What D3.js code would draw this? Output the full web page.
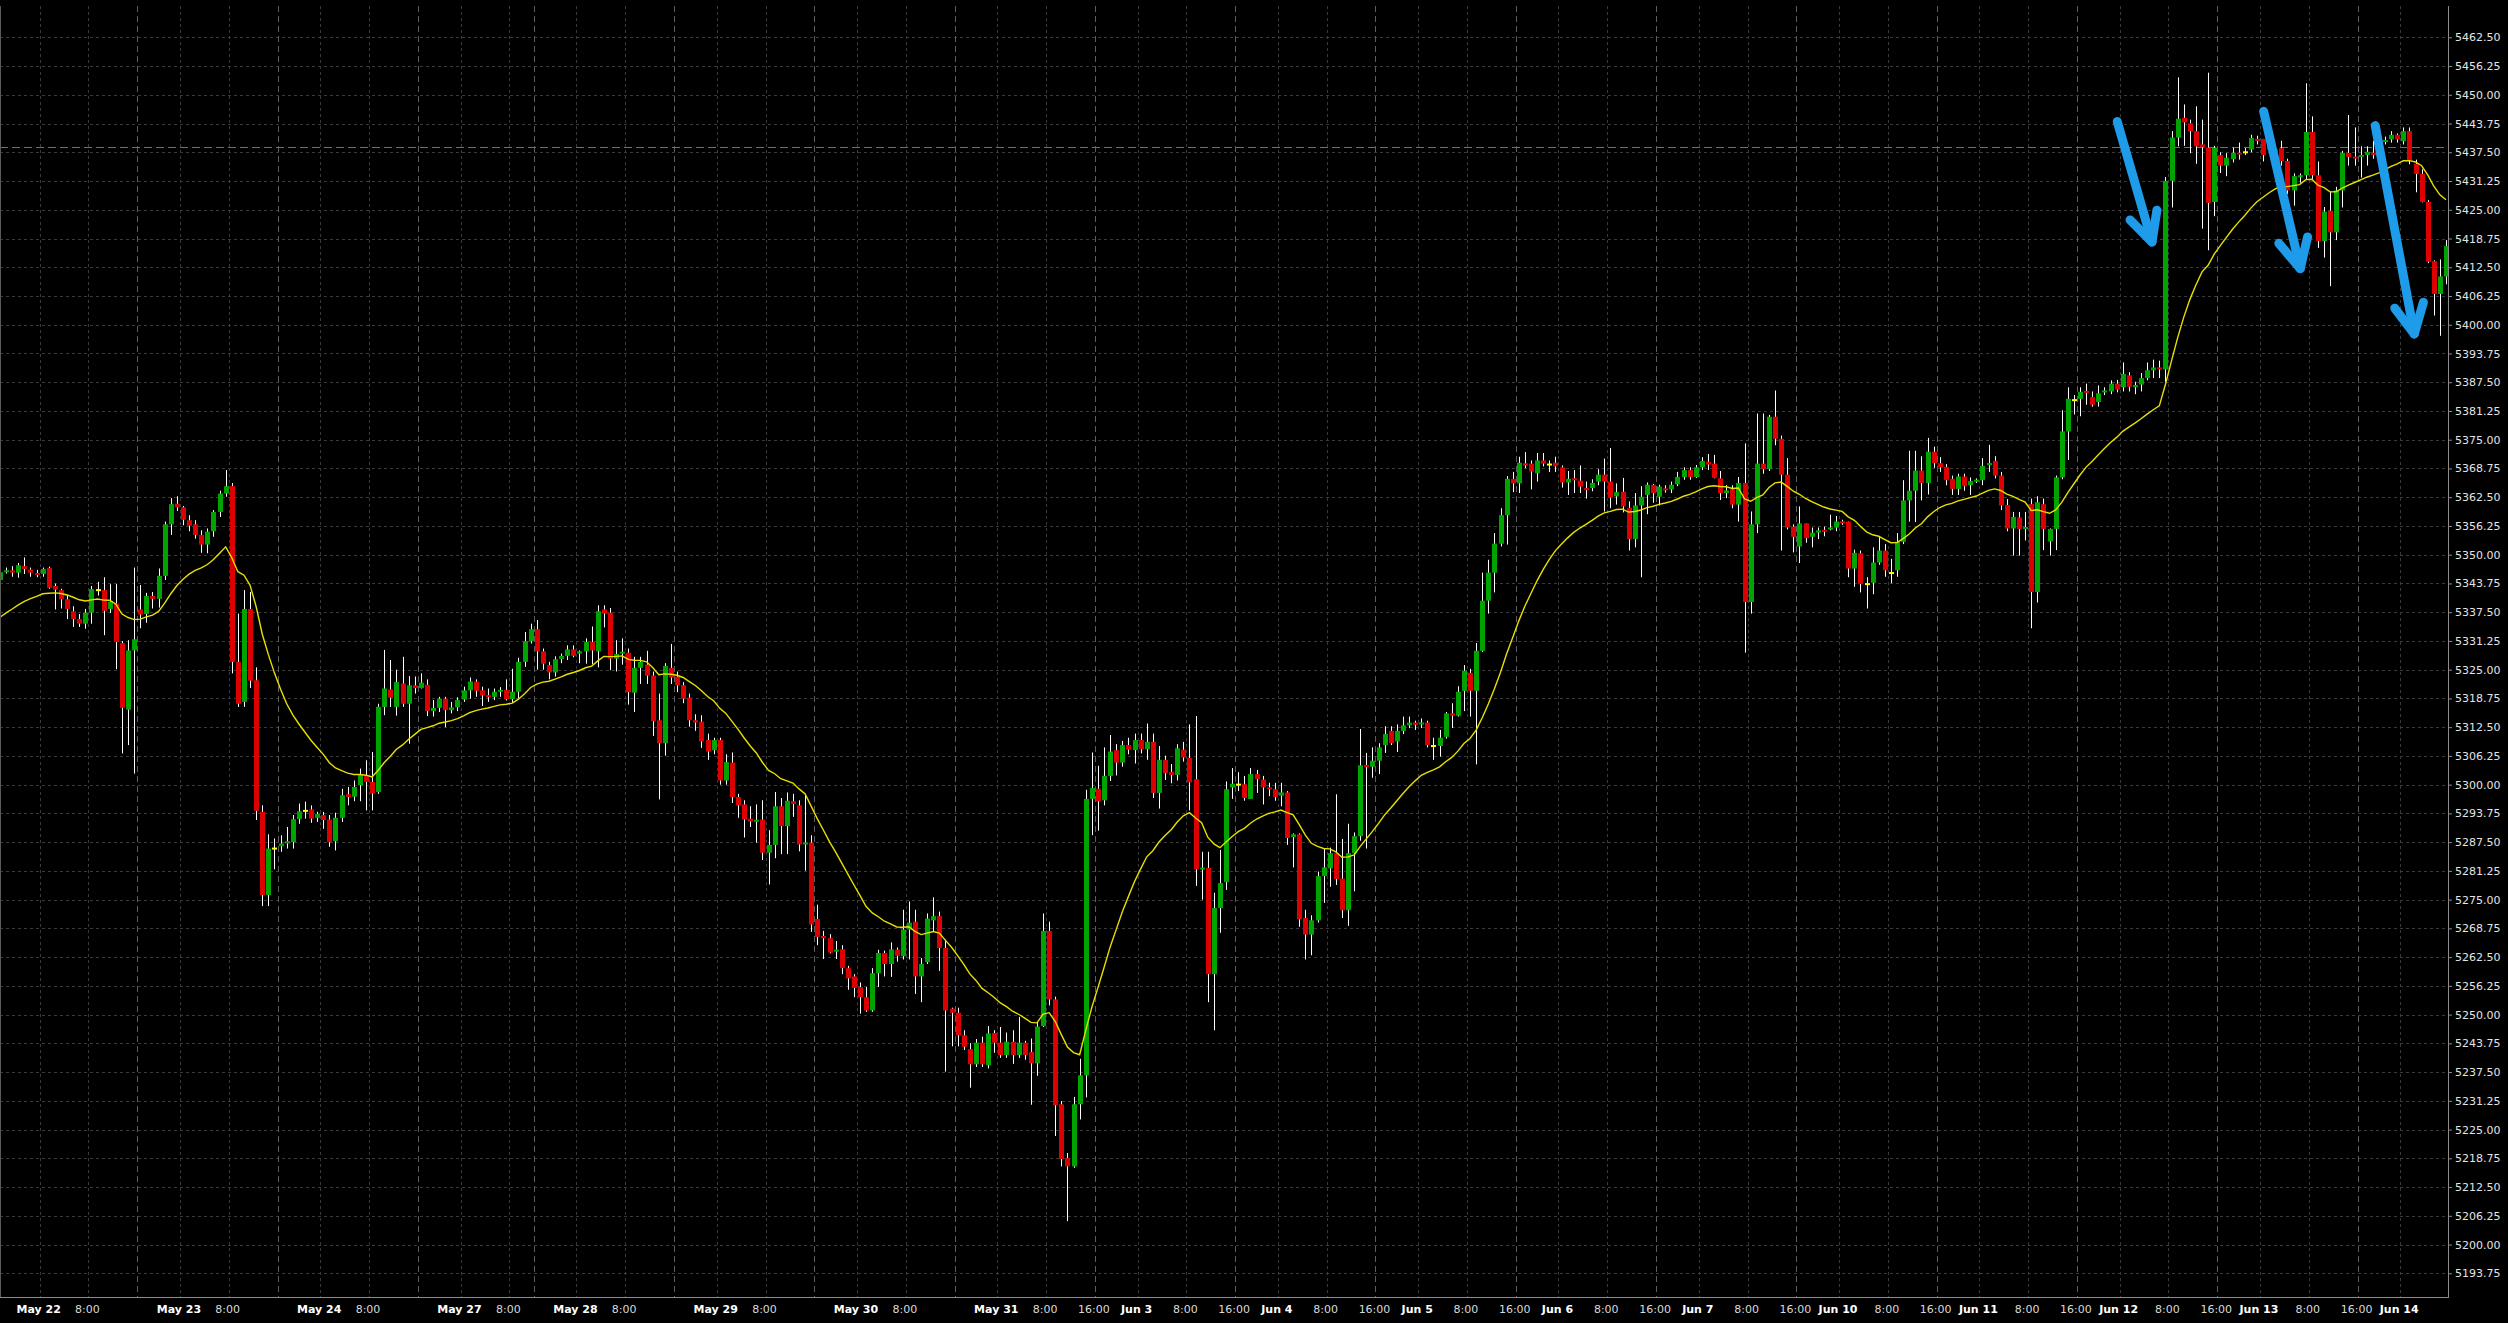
<!DOCTYPE html>
<html><head><meta charset="utf-8">
<script src="https://cdn.jsdelivr.net/npm/d3@7"></script>
<style>
html,body{margin:0;padding:0;background:#000;overflow:hidden;}
svg{display:block}
</style></head><body>
<svg id="chart" width="2508" height="1323"></svg>
<script>
// ---------------- DATA (hourly ES bars) ----------------
const opens = [
5344.5,5346.3,5346.6,5346.1,5347.5,5346.8,5346.0,5345.8,5347.1,5343.2,
5342.3,5340.3,5337.7,5336.0,5335.0,5337.4,5342.3,5342.3,5338.2,5339.4,
5330.8,5316.3,5329.2,5338.1,5337.1,5341.0,5340.4,5345.4,5356.6,5361.1,
5360.3,5357.5,5356.6,5354.3,5352.2,5355.1,5359.3,5363.3,5364.9,5326.7,
5318.0,5338.2,5322.7,5294.1,5276.0,5286.1,5286.6,5287.2,5287.5,5292.5,
5294.3,5294.6,5292.8,5293.4,5292.4,5287.7,5292.8,5297.9,5297.4,5299.9,
5301.9,5300.6,5298.4,5316.9,5320.7,5316.9,5322.0,5317.6,5321.6,5321.0,
5321.7,5316.0,5316.7,5318.7,5316.2,5316.8,5318.5,5320.5,5322.4,5320.5,
5319.4,5319.1,5320.2,5320.6,5318.6,5320.2,5326.7,5331.2,5333.8,5329.0,
5326.0,5324.4,5327.3,5328.0,5329.4,5328.5,5329.0,5331.0,5329.0,5338.1,
5337.4,5327.4,5328.5,5328.7,5320.0,5325.4,5326.1,5323.7,5314.0,5309.0,
5325.4,5323.5,5321.6,5318.9,5314.0,5313.7,5309.7,5307.5,5309.7,5300.9,
5304.8,5297.3,5295.7,5292.6,5292.0,5292.4,5285.2,5286.9,5295.3,5291.0,
5296.4,5295.5,5287.0,5287.4,5270.8,5267.1,5266.6,5263.7,5264.2,5260.1,
5258.3,5256.0,5253.8,5250.9,5259.0,5263.4,5261.0,5264.1,5262.7,5268.5,
5270.2,5258.3,5261.4,5270.5,5271.4,5264.5,5251.3,5250.4,5245.5,5242.5,
5239.2,5243.9,5239.0,5246.0,5243.9,5241.2,5244.1,5241.2,5243.9,5241.9,
5239.4,5247.5,5268.2,5253.3,5230.5,5218.8,5217.0,5230.5,5236.8,5296.9,
5299.1,5296.6,5301.9,5307.5,5304.8,5308.6,5307.5,5309.7,5307.7,5309.3,
5298.2,5305.4,5302.8,5302.1,5307.6,5305.8,5301.2,5281.6,5281.9,5258.8,
5273.2,5278.8,5299.4,5300.0,5300.1,5296.9,5302.3,5301.1,5299.4,5299.0,
5297.6,5298.3,5288.6,5289.2,5271.0,5267.4,5270.5,5280.1,5281.8,5285.1,
5279.6,5272.7,5285.1,5288.8,5304.2,5303.9,5305.2,5308.6,5311.7,5309.4,
5311.7,5312.9,5313.5,5313.1,5313.5,5308.4,5308.4,5310.4,5315.5,5315.0,
5320.4,5324.3,5320.4,5329.1,5340.0,5346.1,5352.4,5358.6,5366.5,5365.5,
5369.8,5369.8,5367.7,5370.5,5369.6,5370.0,5369.0,5365.7,5366.6,5366.1,
5364.4,5364.5,5365.9,5367.4,5365.9,5362.7,5363.7,5360.2,5353.4,5360.7,
5363.0,5365.2,5362.6,5364.4,5364.2,5365.3,5366.9,5368.4,5366.9,5369.0,
5370.2,5369.8,5366.6,5363.4,5364.2,5360.9,5365.6,5339.7,5356.6,5369.8,
5368.6,5380.0,5375.2,5367.4,5356.1,5351.8,5356.8,5353.9,5354.8,5355.4,
5355.5,5355.9,5357.2,5357.2,5347.0,5350.3,5343.6,5343.9,5348.3,5350.9,
5346.0,5346.6,5352.8,5361.8,5363.9,5368.3,5365.6,5372.4,5369.9,5369.1,
5366.5,5364.3,5367.0,5365.1,5366.0,5366.2,5369.5,5370.4,5367.2,5360.8,
5355.7,5358.1,5355.6,5361.0,5341.9,5361.0,5352.9,5355.6,5366.8,5376.8,
5383.6,5383.9,5385.5,5384.3,5383.2,5385.3,5385.5,5387.2,5386.4,5389.0,
5386.4,5387.0,5388.4,5390.1,5390.7,5390.3,5431.3,5440.7,5445.0,5443.8,
5442.1,5439.2,5438.5,5426.7,5436.9,5434.6,5436.0,5437.4,5437.5,5438.1,
5440.4,5440.4,5440.0,5438.1,5438.4,5435.6,5429.2,5432.1,5432.5,5441.9,
5432.5,5418.2,5424.8,5420.1,5429.2,5437.4,5436.5,5436.5,5436.9,5437.4,
5437.0,5439.8,5440.3,5441.3,5439.9,5442.1,5435.0,5432.8,5426.7,5413.8,
5406.7,5410.5];
const highs = [
5346.8,5347.2,5347.5,5348.2,5349.4,5347.2,5346.7,5347.2,5347.4,5343.7,
5342.6,5341.2,5338.8,5337.1,5338.2,5343.2,5344.1,5345.1,5343.6,5343.6,
5331.2,5331.4,5347.2,5343.4,5341.7,5341.9,5347.0,5357.2,5362.3,5362.7,
5360.6,5358.6,5357.5,5355.3,5355.7,5359.7,5363.9,5368.4,5365.6,5337.2,
5342.3,5341.9,5325.5,5295.5,5289.2,5288.3,5289.0,5290.8,5293.4,5295.9,
5296.3,5295.5,5294.1,5294.1,5293.4,5293.9,5299.1,5299.5,5300.9,5303.5,
5305.3,5307.1,5317.6,5329.3,5327.1,5325.0,5327.8,5323.6,5323.5,5324.2,
5322.9,5318.4,5319.1,5319.1,5318.0,5319.0,5321.3,5323.3,5322.9,5321.3,
5320.9,5320.9,5321.2,5322.9,5325.2,5327.6,5333.2,5335.0,5335.8,5329.6,
5326.7,5327.9,5328.5,5330.3,5330.3,5329.2,5331.8,5334.4,5339.0,5339.0,
5338.4,5331.4,5331.8,5329.6,5327.8,5327.8,5329.1,5324.6,5319.8,5326.4,
5330.6,5324.6,5322.3,5319.8,5315.3,5315.1,5311.1,5310.2,5310.2,5306.6,
5307.0,5298.0,5296.6,5295.3,5295.7,5296.6,5290.1,5298.4,5297.1,5298.3,
5298.0,5296.6,5298.0,5289.0,5273.9,5268.2,5267.5,5266.0,5265.1,5260.6,
5258.8,5257.0,5256.0,5260.1,5264.1,5263.9,5265.7,5264.6,5272.8,5274.6,
5272.8,5262.3,5272.0,5275.5,5272.4,5266.3,5251.5,5251.5,5246.6,5243.8,
5244.7,5245.2,5247.5,5246.6,5247.3,5246.1,5246.6,5249.5,5244.3,5244.8,
5248.4,5272.0,5270.2,5253.9,5231.2,5219.9,5232.1,5240.4,5298.9,5307.0,
5304.1,5308.1,5310.8,5308.8,5309.5,5310.2,5311.1,5311.1,5313.3,5311.1,
5308.4,5306.3,5304.5,5308.8,5309.3,5313.1,5314.9,5285.4,5285.4,5276.5,
5285.8,5300.7,5303.6,5302.7,5301.9,5303.6,5303.2,5301.9,5300.4,5300.4,
5300.4,5298.6,5289.4,5289.4,5272.8,5271.6,5281.1,5286.1,5286.3,5297.9,
5288.2,5291.5,5289.6,5312.1,5306.9,5308.1,5309.0,5312.7,5312.7,5313.1,
5314.8,5314.8,5313.9,5314.4,5313.9,5310.2,5311.9,5315.8,5317.7,5321.4,
5326.0,5325.2,5330.8,5346.1,5348.9,5354.7,5360.1,5367.1,5368.0,5371.3,
5372.3,5370.5,5372.1,5372.1,5370.5,5371.3,5369.4,5368.2,5368.4,5369.4,
5365.9,5366.4,5368.6,5370.9,5373.2,5365.5,5366.7,5361.6,5363.4,5364.9,
5365.7,5365.4,5365.2,5365.1,5365.9,5368.0,5369.0,5369.0,5369.5,5371.2,
5371.9,5371.7,5368.2,5365.1,5365.1,5366.9,5374.2,5359.4,5380.7,5380.7,
5380.4,5385.7,5375.9,5371.0,5356.6,5360.5,5356.8,5355.9,5355.9,5356.1,
5358.7,5358.4,5357.6,5357.2,5351.1,5350.9,5345.1,5351.6,5353.9,5352.3,
5349.1,5354.7,5366.2,5372.6,5372.6,5371.4,5375.4,5373.5,5371.2,5369.7,
5367.2,5367.6,5367.6,5366.8,5366.6,5371.0,5373.9,5371.4,5368.0,5362.1,
5359.3,5359.3,5359.3,5362.2,5362.7,5362.2,5355.7,5367.2,5381.4,5386.4,
5384.7,5386.4,5387.2,5385.5,5386.8,5386.4,5387.9,5388.0,5391.8,5389.7,
5387.6,5389.5,5391.8,5392.4,5392.2,5432.1,5442.1,5453.8,5447.9,5444.6,
5447.5,5444.6,5454.8,5438.9,5437.5,5437.3,5438.5,5439.6,5438.4,5441.3,
5441.1,5440.4,5440.4,5438.4,5440.0,5436.1,5432.9,5432.9,5452.5,5445.3,
5435.5,5425.6,5428.9,5430.0,5437.8,5445.6,5442.9,5438.8,5438.8,5440.0,
5438.6,5440.9,5442.1,5441.6,5442.9,5442.9,5435.9,5433.8,5427.1,5414.0,
5414.2,5418.4];
const lows = [
5342.6,5345.9,5345.2,5345.0,5345.8,5345.2,5345.1,5345.2,5342.6,5338.1,
5338.3,5336.0,5334.3,5334.3,5333.9,5335.0,5341.1,5332.5,5337.3,5325.1,
5306.8,5308.6,5302.4,5334.0,5335.2,5338.3,5338.5,5344.5,5354.3,5359.5,
5356.4,5355.1,5353.5,5350.4,5350.3,5353.9,5358.2,5362.6,5324.2,5316.9,
5316.9,5321.0,5292.3,5273.6,5273.6,5281.6,5285.4,5286.1,5286.1,5291.5,
5292.6,5291.7,5291.9,5290.4,5286.5,5285.7,5291.9,5295.5,5296.4,5296.4,
5294.4,5294.4,5298.0,5315.1,5316.9,5315.0,5316.9,5308.9,5319.8,5320.9,
5314.9,5314.8,5315.8,5312.5,5315.5,5316.0,5318.0,5318.7,5319.1,5317.1,
5318.0,5318.4,5319.1,5318.3,5317.8,5318.7,5325.6,5330.7,5325.0,5325.0,
5322.9,5323.5,5326.4,5327.1,5327.7,5326.4,5326.3,5326.2,5325.5,5334.2,
5324.9,5324.6,5326.1,5317.4,5315.8,5321.9,5321.9,5310.6,5296.8,5306.3,
5321.9,5320.1,5317.7,5312.6,5311.7,5308.0,5305.4,5306.6,5300.0,5300.0,
5296.0,5292.8,5288.5,5290.8,5287.4,5283.6,5278.3,5284.0,5284.9,5284.9,
5293.0,5285.5,5281.3,5268.0,5265.1,5262.1,5263.3,5262.1,5258.8,5255.4,
5253.8,5250.2,5250.6,5250.6,5256.0,5258.3,5258.2,5261.5,5262.0,5262.0,
5254.5,5252.7,5261.0,5268.1,5259.5,5237.6,5243.1,5243.1,5242.3,5234.1,
5238.6,5238.6,5238.3,5241.7,5240.6,5240.6,5239.3,5240.6,5240.2,5230.4,
5236.7,5247.3,5252.0,5223.6,5217.0,5205.1,5216.7,5227.2,5232.0,5289.0,
5290.0,5295.5,5300.8,5302.0,5303.9,5306.6,5304.6,5306.8,5305.4,5297.1,
5294.8,5301.0,5300.3,5300.9,5305.0,5294.4,5278.0,5275.0,5252.7,5246.6,
5267.8,5277.1,5296.9,5298.6,5296.5,5296.9,5298.2,5295.7,5297.5,5296.5,
5295.3,5286.9,5282.0,5269.1,5262.0,5262.9,5270.0,5274.3,5277.8,5278.2,
5271.0,5269.3,5276.8,5287.8,5286.1,5301.5,5302.3,5306.9,5308.6,5307.1,
5311.0,5312.3,5311.9,5312.3,5308.1,5305.4,5306.1,5310.0,5312.3,5314.8,
5316.0,5314.8,5304.4,5328.9,5337.2,5341.8,5351.8,5352.2,5363.6,5363.4,
5368.8,5364.2,5365.9,5369.2,5368.0,5368.0,5364.6,5363.0,5363.4,5363.4,
5362.2,5363.8,5365.1,5359.4,5360.1,5360.9,5359.2,5350.9,5351.6,5345.1,
5358.8,5361.3,5360.7,5363.5,5363.4,5364.9,5366.3,5366.3,5366.7,5368.4,
5368.4,5366.6,5361.9,5362.3,5360.1,5357.2,5328.7,5337.2,5354.7,5367.6,
5368.2,5373.8,5350.9,5355.5,5350.5,5348.2,5352.6,5351.6,5353.4,5354.0,
5355.3,5355.1,5356.5,5345.1,5343.0,5341.8,5338.3,5341.4,5347.8,5345.2,
5343.8,5345.2,5352.3,5357.2,5357.1,5361.8,5363.1,5368.9,5368.0,5365.1,
5363.0,5363.0,5363.9,5363.0,5365.6,5365.1,5368.0,5366.6,5359.7,5355.1,
5349.8,5349.8,5353.1,5334.0,5339.6,5351.0,5349.8,5351.0,5366.4,5370.6,
5380.5,5380.1,5382.6,5382.2,5382.2,5384.7,5384.9,5385.3,5385.5,5385.5,
5384.9,5385.5,5387.9,5388.4,5388.4,5387.6,5425.5,5438.8,5438.9,5437.3,
5435.0,5420.9,5416.2,5423.6,5433.0,5432.3,5435.3,5435.9,5436.9,5437.5,
5439.2,5435.5,5437.1,5436.5,5434.6,5428.4,5425.9,5430.9,5431.7,5431.7,
5416.7,5414.6,5408.4,5418.4,5425.5,5434.6,5434.6,5432.0,5434.6,5436.1,
5436.5,5439.2,5439.6,5439.6,5439.2,5434.9,5428.8,5426.6,5413.4,5402.0,
5397.6,5408.8];
const closes = [
5346.2,5346.5,5346.1,5347.7,5346.9,5346.1,5345.6,5346.9,5342.8,5342.4,
5340.3,5338.2,5336.0,5335.0,5337.4,5342.5,5342.3,5337.8,5339.8,5331.0,
5316.7,5329.2,5331.6,5337.0,5341.0,5340.4,5345.4,5356.6,5361.0,5360.3,
5357.6,5356.3,5354.3,5352.2,5355.0,5359.3,5363.3,5364.9,5326.7,5317.6,
5338.2,5322.6,5294.3,5276.0,5286.1,5286.1,5287.2,5287.7,5292.5,5294.2,
5294.3,5292.6,5293.6,5292.3,5287.5,5292.8,5297.7,5297.3,5299.5,5302.1,
5300.6,5298.1,5316.9,5320.9,5318.9,5322.3,5317.6,5321.6,5321.0,5322.2,
5316.0,5316.7,5318.7,5316.2,5316.8,5318.4,5320.5,5322.4,5320.4,5319.4,
5319.1,5320.2,5320.6,5318.6,5320.2,5326.7,5331.2,5333.8,5329.0,5326.3,
5324.4,5327.3,5328.0,5329.4,5328.0,5329.0,5331.0,5329.2,5337.7,5337.2,
5327.4,5328.4,5328.9,5320.1,5325.4,5326.7,5323.7,5313.8,5309.0,5325.8,
5323.3,5321.6,5318.7,5314.0,5313.5,5309.4,5307.2,5309.7,5300.9,5304.9,
5297.3,5295.5,5292.4,5292.0,5292.3,5285.2,5286.9,5295.3,5291.0,5296.5,
5295.8,5287.0,5287.4,5269.6,5266.9,5266.6,5263.5,5264.1,5260.1,5257.9,
5255.8,5253.8,5250.9,5259.0,5263.4,5261.0,5264.2,5262.8,5268.5,5270.0,
5258.3,5261.0,5270.9,5271.4,5264.5,5250.9,5250.4,5245.5,5243.0,5239.2,
5243.9,5239.2,5245.9,5243.9,5241.2,5244.1,5241.2,5243.9,5241.2,5239.4,
5247.4,5268.2,5253.3,5230.3,5218.6,5217.0,5230.5,5236.8,5296.9,5299.3,
5296.4,5301.9,5307.2,5304.8,5308.6,5307.6,5309.7,5307.7,5309.3,5298.2,
5305.4,5302.5,5302.1,5307.9,5305.9,5300.5,5281.6,5281.9,5258.8,5273.2,
5278.6,5299.0,5300.2,5300.0,5297.1,5302.3,5301.2,5299.4,5299.0,5297.3,
5298.3,5288.4,5289.2,5270.7,5267.4,5270.5,5280.1,5282.0,5285.1,5279.5,
5272.7,5285.1,5288.8,5304.2,5303.9,5305.2,5308.1,5311.0,5309.0,5311.7,
5312.9,5313.5,5313.0,5313.5,5308.6,5308.4,5310.2,5315.5,5315.0,5320.2,
5324.8,5320.4,5329.1,5340.0,5346.1,5352.4,5358.6,5366.5,5365.5,5370.0,
5369.5,5368.1,5370.5,5369.8,5369.6,5369.2,5365.7,5366.5,5366.2,5364.8,
5364.1,5365.6,5367.4,5365.9,5362.4,5363.6,5360.5,5353.4,5360.7,5362.6,
5365.2,5363.4,5364.8,5364.0,5365.2,5366.9,5368.4,5366.9,5369.0,5370.4,
5369.6,5366.7,5363.4,5364.0,5360.9,5365.6,5339.7,5356.6,5369.8,5368.6,
5380.0,5375.2,5367.4,5355.9,5353.9,5356.8,5353.6,5354.8,5355.3,5355.0,
5355.9,5357.2,5356.9,5347.0,5350.4,5343.6,5343.6,5348.3,5350.9,5346.6,
5346.0,5352.8,5361.8,5363.9,5368.3,5365.6,5372.4,5369.9,5369.0,5366.2,
5364.3,5367.0,5364.9,5366.0,5366.2,5369.3,5369.9,5367.2,5360.7,5355.7,
5358.2,5355.6,5356.0,5341.9,5361.4,5355.6,5355.6,5366.8,5376.8,5383.9,
5383.6,5385.4,5385.3,5382.6,5385.1,5385.7,5387.2,5385.9,5389.3,5386.5,
5386.9,5388.4,5390.1,5390.7,5390.3,5431.3,5440.7,5444.8,5444.0,5442.1,
5438.8,5438.6,5426.5,5438.5,5434.6,5436.3,5437.4,5437.0,5437.5,5440.6,
5440.0,5436.9,5438.1,5437.5,5435.6,5429.2,5432.3,5432.5,5441.9,5432.5,
5418.2,5424.6,5420.1,5429.2,5437.4,5436.5,5436.2,5436.9,5437.6,5436.9,
5437.8,5440.1,5441.3,5440.3,5442.1,5435.7,5432.8,5426.7,5413.7,5406.7,
5410.5,5417.1];

// trading sessions (one per day) and how many hourly bars each shows
const sessions    = ["May 22","May 23","May 24","May 27","May 28","May 29","May 30","May 31",
                     "Jun 3","Jun 4","Jun 5","Jun 6","Jun 7","Jun 10","Jun 11","Jun 12","Jun 13","Jun 14"];
const sessionBars = [23,23,23,19,23,23,23,23,23,23,23,23,23,23,23,23,23,15];
const showLateLabel = [false,false,false,false,false,false,false,true,true,true,true,true,true,true,true,true,true,false];
const timeLabels = ["8:00","16:00"];

// price axis tick labels
const yTickValues = [5193.75,5200.00,5206.25,5212.50,5218.75,5225.00,5231.25,5237.50,5243.75,5250.00,
  5256.25,5262.50,5268.75,5275.00,5281.25,5287.50,5293.75,5300.00,5306.25,5312.50,5318.75,5325.00,
  5331.25,5337.50,5343.75,5350.00,5356.25,5362.50,5368.75,5375.00,5381.25,5387.50,5393.75,5400.00,
  5406.25,5412.50,5418.75,5425.00,5431.25,5437.50,5443.75,5450.00,5456.25,5462.50];

// moving average settings (exponential, seeded from the picture's left edge value)
const maPeriod = 20;
const maSeed = 5336.4;

// horizontal reference level (dashed line) and annotation arrows [barIndex, price]
const refLevel = 5438.6;
const arrows = [
  {from:[347.1,5444.2], tip:[352.8,5418.0], left:[349.2,5422.8], right:[353.6,5424.9]},
  {from:[371.1,5446.4], tip:[377.1,5412.2], left:[373.6,5417.7], right:[378.3,5419.1]},
  {from:[389.4,5443.3], tip:[395.8,5398.0], left:[392.6,5403.6], right:[397.3,5404.9]}
];

// ---------------- DRAWING ----------------
const plotRight = 2448, plotTop = 6, plotBottom = 1298;
const nBars = closes.length;
const svg = d3.select("#chart");
svg.append("rect").attr("width",2508).attr("height",1323).attr("fill","#000");

const x = d3.scaleLinear().domain([0, nBars-1]).range([0, 2446]);
const y = d3.scaleLinear().domain([5193.75, 5462.5]).range([1273.3, 37.3]);

svg.append("defs").append("clipPath").attr("id","plotclip")
  .append("rect").attr("x",0).attr("y",plotTop).attr("width",plotRight).attr("height",plotBottom-plotTop);

const plot = svg.append("g").attr("clip-path","url(#plotclip)");

// horizontal grid
plot.append("g").selectAll("line").data(yTickValues).join("line")
  .attr("x1",0).attr("x2",plotRight)
  .attr("y1",d=>Math.round(y(d))+0.5).attr("y2",d=>Math.round(y(d))+0.5)
  .attr("stroke","#3a3a3a").attr("stroke-width",1).attr("stroke-dasharray","3,3");

// vertical grid
const starts = [];
let acc = 0;
sessionBars.forEach(n=>{ starts.push(acc); acc += n; });
const sepLines = [], dimLines = [];
starts.forEach((s,k)=>{
  if (k>0) sepLines.push(s-0.5);
  [s+6.5, s+14.5].forEach(p=>{ if (x(p) < plotRight) dimLines.push(p); });
});
plot.append("g").selectAll("line").data(dimLines).join("line")
  .attr("x1",d=>Math.round(x(d))+0.5).attr("x2",d=>Math.round(x(d))+0.5)
  .attr("y1",plotTop).attr("y2",plotBottom)
  .attr("stroke","#3a3a3a").attr("stroke-dasharray","3,3");
plot.append("g").selectAll("line").data(sepLines).join("line")
  .attr("x1",d=>Math.round(x(d))+0.5).attr("x2",d=>Math.round(x(d))+0.5)
  .attr("y1",plotTop).attr("y2",plotBottom)
  .attr("stroke","#5e5e5e").attr("stroke-dasharray","6,4");

// reference dashed line
plot.append("line").attr("x1",0).attr("x2",plotRight)
  .attr("y1",Math.round(y(refLevel))+0.5).attr("y2",Math.round(y(refLevel))+0.5)
  .attr("stroke","#707070").attr("stroke-dasharray","8,4");

// candles
const idx = d3.range(nBars);
const cg = plot.append("g");
cg.selectAll("line").data(idx).join("line")
  .attr("x1",i=>Math.round(x(i))+0.5).attr("x2",i=>Math.round(x(i))+0.5)
  .attr("y1",i=>y(highs[i])).attr("y2",i=>y(lows[i]))
  .attr("stroke","#ffffff").attr("stroke-width",1);
cg.selectAll("rect").data(idx).join("rect")
  .attr("x",i=>Math.round(x(i))-2).attr("width",5)
  .attr("y",i=>{
    const top = y(Math.max(opens[i],closes[i])), bot = y(Math.min(opens[i],closes[i]));
    const h = Math.max(2, bot-top);
    return (top+bot)/2 - h/2;
  })
  .attr("height",i=>Math.max(2, y(Math.min(opens[i],closes[i])) - y(Math.max(opens[i],closes[i]))))
  .attr("fill",i=> closes[i]>opens[i] ? "#00a400" : (closes[i]<opens[i] ? "#dc0000" : "#ffff00"));

// moving average
const k = 2/(maPeriod+1);
const ma = [];
closes.forEach((c,i)=>{ ma.push(i===0 ? maSeed : ma[i-1] + k*(c - ma[i-1])); });
plot.append("path").datum(ma)
  .attr("d", d3.line().x((d,i)=>x(i)).y(d=>y(d)))
  .attr("fill","none").attr("stroke","#e6e000").attr("stroke-width",1.4);

// arrows
const ag = plot.append("g").attr("fill","none").attr("stroke","#1e9be9")
  .attr("stroke-width",9).attr("stroke-linecap","round").attr("stroke-linejoin","round");
arrows.forEach(a=>{
  const P = p => [x(p[0]), y(p[1])];
  ag.append("path").attr("d", d3.line()([P(a.from), P(a.tip)]));
  ag.append("path").attr("d", d3.line()([P(a.left), P(a.tip), P(a.right)]));
});

// frame
svg.append("line").attr("x1",0.5).attr("x2",0.5).attr("y1",plotTop).attr("y2",plotBottom)
  .attr("stroke","#5a5a5a");

// right price axis
const yAxis = d3.axisRight(y).tickValues(yTickValues).tickFormat(d3.format(".2f"))
  .tickSize(4).tickPadding(3);
const ya = svg.append("g").attr("transform",`translate(${plotRight},0)`).call(yAxis);
ya.select(".domain").remove();
ya.selectAll(".tick line").attr("stroke","#8c8c8c");
ya.selectAll(".tick text").attr("fill","#e4e4e4")
  .style("font-family","'DejaVu Sans', sans-serif").style("font-size","11px");
svg.append("line").attr("x1",plotRight+0.5).attr("x2",plotRight+0.5)
  .attr("y1",plotTop).attr("y2",plotBottom).attr("stroke","#8c8c8c");
svg.append("line").attr("x1",0).attr("x2",plotRight+1)
  .attr("y1",plotBottom-0.5).attr("y2",plotBottom-0.5).attr("stroke","#8c8c8c");

// bottom time axis (only labels that fall inside the drawn bars)
const xt = [];
starts.forEach((s,k)=>{
  xt.push({pos:s+6.25, text:sessions[k], bold:true});
  xt.push({pos:s+14.25, text:timeLabels[0], bold:false});
  if (showLateLabel[k]) xt.push({pos:s+22.25, text:timeLabels[1], bold:false});
});
const xtv = xt.filter(t=>t.pos < nBars-1);
const xAxis = d3.axisBottom(x).tickValues(xtv.map(t=>t.pos))
  .tickFormat((d,i)=>xtv[i].text).tickSize(0).tickPadding(7);
const xa = svg.append("g").attr("transform",`translate(0,${plotBottom})`).call(xAxis);
xa.select(".domain").remove();
xa.selectAll(".tick text")
  .style("font-family","'DejaVu Sans', sans-serif").style("font-size","11px")
  .attr("fill",(d,i)=>xtv[i].bold ? "#ffffff" : "#dadada")
  .style("font-weight",(d,i)=>xtv[i].bold ? "bold" : "normal");
</script>
</body></html>
